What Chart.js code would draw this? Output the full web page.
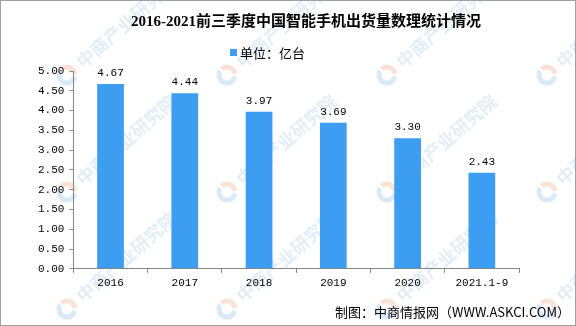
<!DOCTYPE html>
<html lang="zh">
<head>
  <meta charset="UTF-8">
  <title>智能手机出货量</title>
  <style>
    html, body { margin: 0; padding: 0; background: #fff; }
    #box {
      width: 576px; height: 326px; box-sizing: border-box;
      border: 1px solid #a0a0a0; position: relative;
    }
  </style>
</head>
<body>
<div id="box">
  <canvas id="myChart" width="574" height="324"></canvas>
</div>

<script src="https://cdn.jsdelivr.net/npm/chart.js"></script>
<script>
  // data
  var labels = ['2016', '2017', '2018', '2019', '2020', '2021.1-9'];
  var shipments = [4.67, 4.44, 3.97, 3.69, 3.30, 2.43];
  var seriesName = '单位：亿台';
  var chartTitle = '2016-2021前三季度中国智能手机出货量数理统计情况';
  var sourceText = '制图：中商情报网（WWW.ASKCI.COM）';
  var watermark = '中商产业研究院';

  var monoFont = "'Liberation Mono', 'Noto Sans CJK SC', monospace";
  var cjkFont = "'Noto Sans CJK SC', sans-serif";

  // faint diagonal watermark behind everything
  var backdrop = {
    id: 'backdrop',
    beforeDraw: function(chart) {
      var c = chart.ctx;
      c.save();
      for (var row = -1; row < 3; row++) {
        for (var col = 0; col < 4; col++) {
          var x = 66 + col * 160;
          var y = 74 + row * 117;
          c.save();
          c.translate(x, y);
          c.rotate(-0.72);
          c.lineWidth = 5;
          c.strokeStyle = 'rgba(240,150,110,0.28)';
          c.beginPath(); c.arc(0, 0, 8, -1.6, 0.6); c.stroke();
          c.strokeStyle = 'rgba(120,175,220,0.28)';
          c.beginPath(); c.arc(0, 0, 8, 0.9, 4.4); c.stroke();
          c.font = "bold 18px " + cjkFont;
          c.fillStyle = 'rgba(120,175,220,0.22)';
          c.textBaseline = 'middle';
          c.fillText(watermark, 16, 0);
          c.restore();
        }
      }
      c.restore();
    },
    afterDraw: function(chart) {
      var c = chart.ctx;
      c.save();
      // title
      c.font = "bold 15px 'Liberation Serif', 'Noto Sans CJK SC', serif";
      c.fillStyle = '#000';
      c.textAlign = 'center';
      c.textBaseline = 'middle';
      c.fillText(chartTitle, 305, 21);
      // legend
      c.fillStyle = chart.data.datasets[0].backgroundColor;
      c.fillRect(229, 48, 7, 7);
      c.fillStyle = '#000';
      c.textAlign = 'left';
      c.font = "13px " + cjkFont;
      c.fillText(seriesName, 239, 52);
      // source note
      c.textAlign = 'right';
      c.fillText(sourceText, 569, 311);
      c.restore();
    }
  };

  // value labels on top of the bars
  var barLabels = {
    id: 'barLabels',
    afterDatasetsDraw: function(chart) {
      var c = chart.ctx;
      var meta = chart.getDatasetMeta(0);
      c.save();
      c.font = "11px " + monoFont;
      c.fillStyle = '#000';
      c.textAlign = 'center';
      c.textBaseline = 'middle';
      meta.data.forEach(function(bar, i) {
        c.fillText(shipments[i].toFixed(2), bar.x, bar.y - 11);
      });
      c.restore();
    }
  };

  var ctx = document.getElementById('myChart');
  var chart = new Chart(ctx, {
    type: 'bar',
    data: {
      labels: labels,
      datasets: [{
        label: seriesName,
        data: shipments,
        backgroundColor: '#3d9df0',
        barPercentage: 0.72,
        categoryPercentage: 0.5
      }]
    },
    options: {
      responsive: false,
      animation: false,
      layout: { padding: { left: 32, right: 56, top: 70, bottom: 31 } },
      plugins: {
        legend: { display: false },
        tooltip: { enabled: false }
      },
      scales: {
        y: {
          min: 0, max: 5,
          ticks: {
            stepSize: 0.5,
            color: '#000',
            padding: 5,
            font: { family: monoFont, size: 11 },
            callback: function(v) { return v.toFixed(2); }
          },
          grid: { drawOnChartArea: false, tickLength: 4, color: '#868686' },
          border: { color: '#868686' }
        },
        x: {
          ticks: {
            color: '#000',
            padding: 4,
            font: { family: monoFont, size: 11 }
          },
          grid: { drawOnChartArea: false, offset: true, tickLength: 4, color: '#868686' },
          border: { color: '#868686' }
        }
      }
    },
    plugins: [backdrop, barLabels]
  });
</script>
</body>
</html>
